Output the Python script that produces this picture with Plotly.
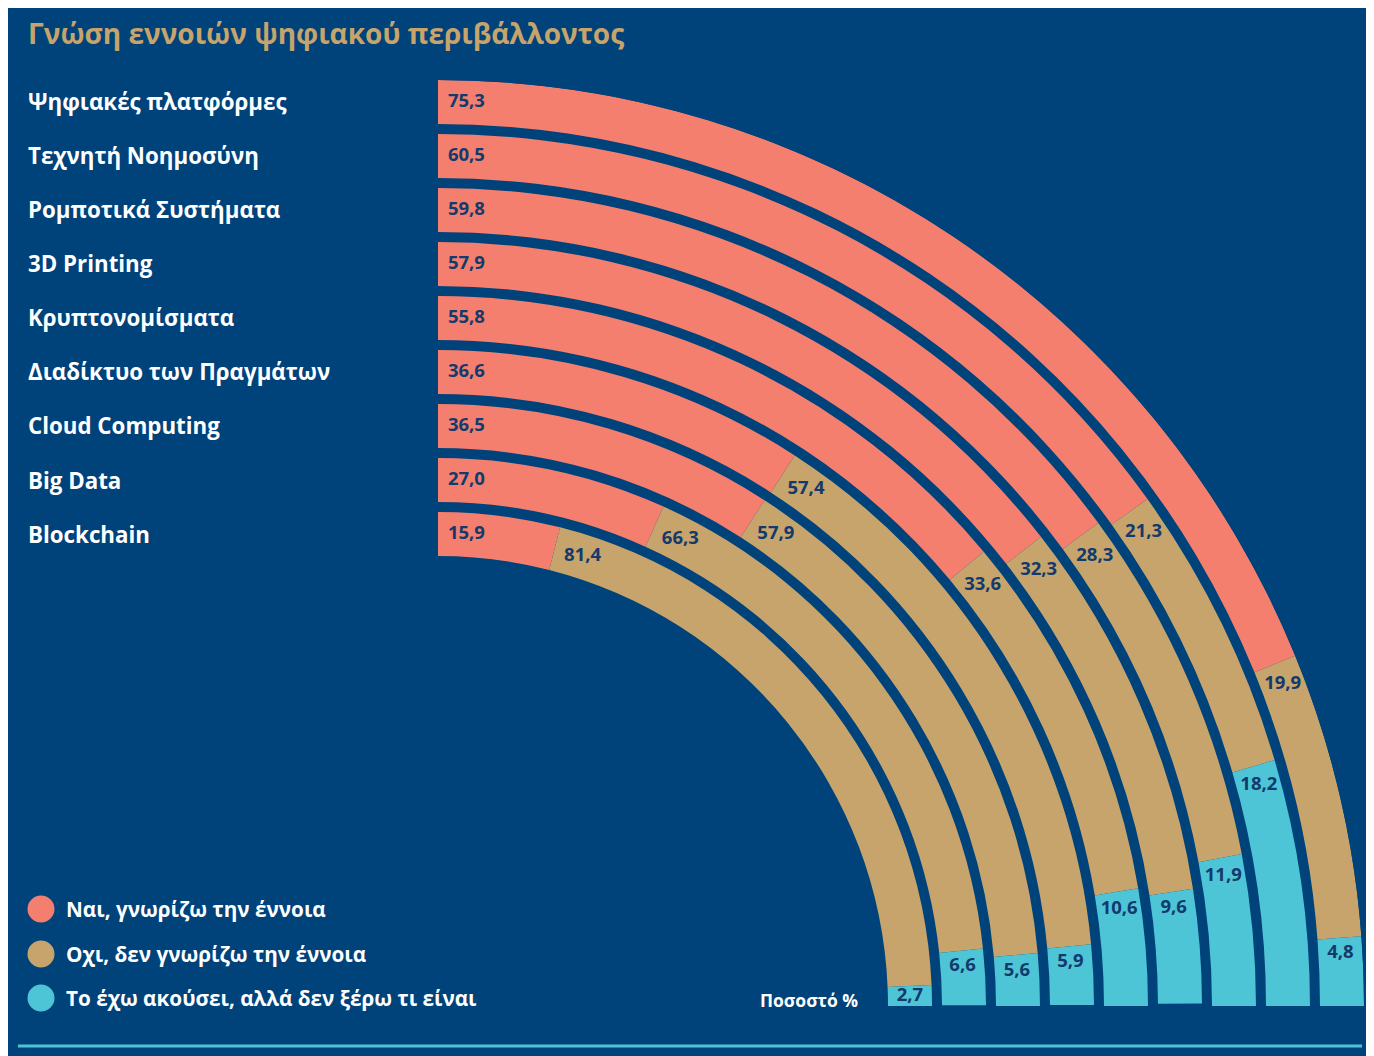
import math
import plotly.graph_objects as go

# ---------------- data ----------------
categories = [
    "Ψηφιακές πλατφόρμες",
    "Τεχνητή Νοημοσύνη",
    "Ρομποτικά Συστήματα",
    "3D Printing",
    "Κρυπτονομίσματα",
    "Διαδίκτυο των Πραγμάτων",
    "Cloud Computing",
    "Big Data",
    "Blockchain",
]
yes_know = [75.3, 60.5, 59.8, 57.9, 55.8, 36.6, 36.5, 27.0, 15.9]
no_know = [19.9, 21.3, 28.3, 32.3, 33.6, 57.4, 57.9, 66.3, 81.4]
heard_only = [4.8, 18.2, 11.9, 9.6, 10.6, 5.9, 5.6, 6.6, 2.7]
series_names = [
    "Ναι, γνωρίζω την έννοια",
    "Οχι, δεν γνωρίζω την έννοια",
    "Το έχω ακούσει, αλλά δεν ξέρω τι είναι",
]
title_text = "Γνώση εννοιών ψηφιακού περιβάλλοντος"
unit_text = "Ποσοστό %"

# ---------------- style ----------------
OX, OY = 8, 8                # page body margin offset
W, H = 1374 - OX, 1056 - OY  # figure size
BG = "#00427A"
COLORS = ["#F47F6F", "#C6A46B", "#4EC5D6"]
LABEL_COL = "#123A6C"
TITLE_COL = "#C6A46B"
FONT = "Open Sans"


def px(x):
    return (x - OX) / W


def py(y):
    return (H - (y - OY)) / H


CX, CY = 438, 1006          # window pixel position of arc centre
R_OUT = 926                 # outer radius of outermost ring (px)
STEP = 54                   # ring spacing
THICK = 44                  # ring thickness
DEG_PER_PCT = 0.9           # 100 % -> 90 degrees

fig = go.Figure()

series = [yes_know, no_know, heard_only]
val_font = 18.5
for i, cat in enumerate(categories):
    r_outer = R_OUT - STEP * i
    base = r_outer - THICK
    r_mid = r_outer - THICK / 2
    cum = 0.0
    lab_r, lab_t, lab_txt = [], [], []
    for s, vals in enumerate(series):
        v = vals[i]
        fig.add_trace(go.Barpolar(
            r=[THICK], base=[base],
            theta=[(cum + v / 2) * DEG_PER_PCT],
            width=[v * DEG_PER_PCT],
            marker=dict(color=COLORS[s], line=dict(width=0)),
            showlegend=False, hoverinfo="skip",
        ))
        txt = f"{v:.1f}".replace(".", ",")
        th = math.radians(cum * DEG_PER_PCT)
        w = (len(txt) - 0.5) * 0.57 * val_font
        h = val_font * 0.95
        pad = 10 - 4 * math.sin(th)
        off_px = (w / 2) * abs(math.cos(th)) + (h / 2) * abs(math.sin(th)) + pad
        seg_px = math.radians(v * DEG_PER_PCT) * r_mid
        off_px = min(off_px, seg_px / 2)
        dth = math.degrees(off_px / r_mid)
        lab_r.append(r_mid)
        lab_t.append(cum * DEG_PER_PCT + dth)
        lab_txt.append(txt)
        cum += v
    fig.add_trace(go.Scatterpolar(
        r=lab_r, theta=lab_t, text=lab_txt, mode="text",
        textfont=dict(color=LABEL_COL, size=val_font, family=FONT, weight="bold"),
        showlegend=False, hoverinfo="skip",
    ))

fig.update_layout(
    width=W, height=H,
    margin=dict(l=0, r=0, t=0, b=0),
    paper_bgcolor=BG,
    plot_bgcolor=BG,
    font=dict(family=FONT, color="white"),
    polar=dict(
        domain=dict(x=[px(CX), px(CX + R_OUT)],
                    y=[py(CY), py(CY - R_OUT)]),
        sector=[0, 90],
        bgcolor="rgba(0,0,0,0)",
        bargap=0,
        barmode="overlay",
        angularaxis=dict(rotation=90, direction="clockwise", visible=False,
                         showgrid=False, showline=False, showticklabels=False),
        radialaxis=dict(range=[0, R_OUT], visible=False, showgrid=False,
                        showline=False, showticklabels=False),
    ),
)

shapes = [
    dict(type="line", xref="paper", yref="paper", x0=px(18), x1=px(1362),
         y0=py(1046), y1=py(1046), line=dict(color="#4EC5D6", width=3)),
]
annotations = [
    dict(text=f"<b>{title_text}</b>", xref="paper", yref="paper", x=px(26), y=py(33),
         xanchor="left", yanchor="middle", showarrow=False,
         font=dict(size=28, color=TITLE_COL, family=FONT)),
    dict(text=f"<b>{unit_text}</b>", xref="paper", yref="paper", x=px(860), y=py(1000),
         xanchor="right", yanchor="middle", showarrow=False,
         font=dict(size=17.5, color="white", family=FONT)),
]
for i, cat in enumerate(categories):
    ymid = CY - (R_OUT - STEP * i - THICK / 2)
    annotations.append(dict(
        text=f"<b>{cat}</b>", xref="paper", yref="paper", x=px(26), y=py(ymid),
        xanchor="left", yanchor="middle", showarrow=False,
        font=dict(size=22.3, color="white", family=FONT)))

legend_y = [909, 954, 998]
for k, name in enumerate(series_names):
    yc = legend_y[k]
    rad = 13.5
    shapes.append(dict(type="circle", xref="paper", yref="paper",
                       x0=px(41 - rad), x1=px(41 + rad),
                       y0=py(yc + rad), y1=py(yc - rad),
                       fillcolor=COLORS[k], line=dict(width=0)))
    annotations.append(dict(
        text=f"<b>{name}</b>", xref="paper", yref="paper", x=px(64), y=py(yc),
        xanchor="left", yanchor="middle", showarrow=False,
        font=dict(size=20.7, color="white", family=FONT)))

fig.update_layout(shapes=shapes, annotations=annotations)
fig.write_html("out.html")
